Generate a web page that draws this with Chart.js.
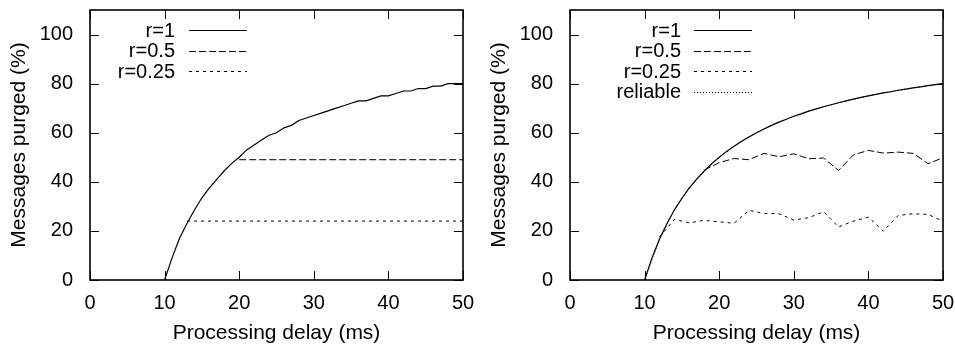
<!DOCTYPE html>
<html>
<head>
<meta charset="utf-8">
<script src="https://cdn.jsdelivr.net/npm/chart.js@4.4.1/dist/chart.umd.min.js"></script>
<style>
  body{margin:0;background:#fff;}
  .panel{position:absolute;top:0;height:347px;}
</style>
</head>
<body>
<div class="panel" style="left:0;width:480px"><canvas id="leftChart" width="480" height="347"></canvas></div>
<div class="panel" style="left:480px;width:475px"><canvas id="rightChart" width="475" height="347"></canvas></div>
<script>
// left panel
const leftR1Delay = [10,11,12,13,14,15,16,17,18,19,20,21,22,23,24,25,26,27,28,29,30,31,32,33,34,35,36,37,38,39,40,41,42,43,44,45,46,47,48,49,50];
const leftR1 = [0,9,17,23,28.5,33.5,37.5,41,44.5,47.5,50,53,55,57,59,60,62,63,65,66,67,68,69,70,71,72,73,73,74,75,75,76,77,77,78,78,79,79,80,80,80];
const leftR05Delay = [20,50];
const leftR05 = [49,49];
const leftR025Delay = [13,50];
const leftR025 = [24,24];

// right panel
const rightR1Delay = [10,11,12,13,14,15,16,17,18,19,20,21,22,23,24,25,26,27,28,29,30,31,32,33,34,35,36,37,38,39,40,41,42,43,44,45,46,47,48,49,50];
const rightR1 = [0,9.1,16.7,23,28.6,33.3,37.5,41.2,44.4,47.4,50,52.4,54.5,56.5,58.3,60,61.5,63,64.3,65.5,66.7,67.7,68.8,69.7,70.6,71.4,72.2,73,73.7,74.4,75,75.6,76.2,76.7,77.3,77.8,78.3,78.7,79.2,79.6,80];
const rightR05Delay = [18,20,22,24,26,28,30,32,34,36,38,40,42,44,46,48,50];
const rightR05 = [44.8,47.8,49.5,49,51.6,50.2,51.4,49.4,49.7,44.6,51,52.8,51.7,52.1,51.6,47.4,49.8];
const rightR025Delay = [12,14,16,18,20,22,24,26,28,30,32,34,36,38,40,42,44,46,48,50];
const rightR025 = [17.5,24.7,23.3,24.3,23.7,23.1,28.4,27.1,27,24.4,25.4,27.8,21.6,24,25.6,19.9,26.3,27,26.7,24];
const reliableDelay = [10,12,14,16,18,20,22,24,26,28,30,32,34,36,38,40,42,44,46,48,50];
const reliable = [0,16.7,28.6,37.5,44.4,50,54.5,58.3,61.5,64.3,66.7,68.8,70.6,72.2,73.7,75,76.2,77.3,78.3,79.2,80];

const xTicks = [0,10,20,30,40,50];
const yTicks = [0,20,40,60,80,100];

Chart.defaults.font.family = "'Liberation Sans', Arial, sans-serif";
Chart.defaults.font.size = 20;
Chart.defaults.color = "#000";

const pts = (xs, ys) => xs.map((x,i) => ({x:x, y:ys[i]}));

const frame = {
  id:"frame",
  afterDatasetsDraw(chart){
    const {ctx, chartArea:a, scales:{x, y}} = chart;
    ctx.save();
    ctx.strokeStyle = "#000";
    ctx.lineWidth = 1;
    ctx.beginPath();
    xTicks.forEach(v => {
      const px = Math.round(x.getPixelForValue(v)) + 0.5;
      ctx.moveTo(px, a.bottom); ctx.lineTo(px, a.bottom - 9);
      ctx.moveTo(px, a.top); ctx.lineTo(px, a.top + 9);
    });
    yTicks.forEach(v => {
      const py = Math.round(y.getPixelForValue(v)) + 0.5;
      ctx.moveTo(a.left, py); ctx.lineTo(a.left + 9, py);
      ctx.moveTo(a.right, py); ctx.lineTo(a.right - 9, py);
    });
    ctx.stroke();
    ctx.lineWidth = 1.6;
    ctx.strokeRect(a.left, a.top, a.right - a.left, a.bottom - a.top);
    ctx.restore();
  }
};

const keyBox = {
  id:"keyBox",
  afterDatasetsDraw(chart, args, opts){
    const {ctx, chartArea:a} = chart;
    ctx.save();
    ctx.font = "20px 'Liberation Sans', Arial, sans-serif";
    ctx.fillStyle = "#000";
    ctx.textAlign = "right";
    ctx.textBaseline = "middle";
    chart.data.datasets.forEach((ds, i) => {
      const yy = a.top + opts.top + i * opts.row;
      ctx.fillText(ds.label, a.left + opts.textRight, yy + 1);
      ctx.beginPath();
      ctx.setLineDash(ds.borderDash || []);
      ctx.lineWidth = ds.borderWidth;
      ctx.strokeStyle = ds.borderColor;
      ctx.moveTo(a.left + opts.lineStart, Math.round(yy) + 0.5);
      ctx.lineTo(a.left + opts.lineEnd, Math.round(yy) + 0.5);
      ctx.stroke();
    });
    ctx.restore();
  }
};

function line(label, data, dash, width){
  return {label:label, data:data, borderColor:"#000", borderWidth:width || 1, borderDash:dash, pointRadius:0, tension:0, fill:false};
}

function makeChart(id, datasets, rightPad, key){
  return new Chart(document.getElementById(id), {
    type:"line",
    data:{datasets:datasets},
    options:{
      responsive:false,
      animation:false,
      layout:{padding:{top:10, right:rightPad, left:0, bottom:0}},
      plugins:{legend:{display:false}, tooltip:{enabled:false}, keyBox:key},
      scales:{
        x:{
          type:"linear", min:0, max:50,
          grid:{display:false}, border:{display:false},
          ticks:{stepSize:10, padding:3, maxRotation:0},
          title:{display:true, text:"Processing delay (ms)", font:{size:21}, padding:{top:0, bottom:1}},
          afterFit(s){ s.height = 67; s.paddingLeft = 0; s.paddingRight = 0; }
        },
        y:{
          min:0, max:110,
          grid:{display:false}, border:{display:false},
          ticks:{stepSize:20, padding:9, includeBounds:false},
          title:{display:true, text:"Messages purged (%)", font:{size:21}, padding:{top:7, bottom:0}},
          afterFit(s){ s.width = 90; s.paddingTop = 0; s.paddingBottom = 0; }
        }
      }
    },
    plugins:[frame, keyBox]
  });
}

makeChart("leftChart", [
  line("r=1", pts(leftR1Delay, leftR1), [], 1.2),
  line("r=0.5", pts(leftR05Delay, leftR05), [7,3]),
  line("r=0.25", pts(leftR025Delay, leftR025), [3,4])
], 17, {top:20, row:20.5, textRight:85, lineStart:99, lineEnd:157});

makeChart("rightChart", [
  line("r=1", pts(rightR1Delay, rightR1), [], 1.2),
  line("r=0.5", pts(rightR05Delay, rightR05), [7,3]),
  line("r=0.25", pts(rightR025Delay, rightR025), [3,4]),
  line("reliable", pts(reliableDelay, reliable), [1,2])
], 12, {top:20, row:20.5, textRight:111, lineStart:124, lineEnd:182});
</script>
</body>
</html>
